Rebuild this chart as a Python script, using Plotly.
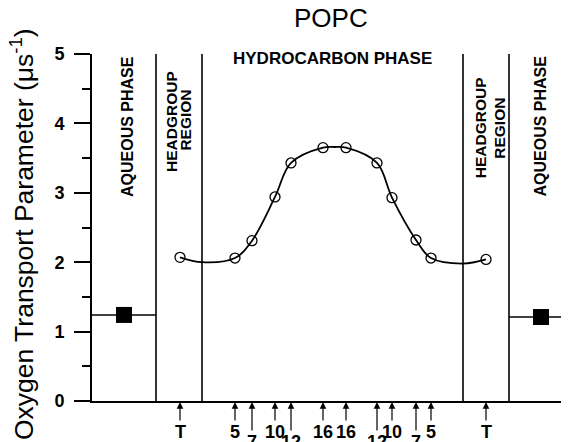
import plotly.graph_objects as go

# ---- data (x = position across the bilayer, arbitrary units) ----
point_labels = ["T", "5", "7", "10", "12", "16", "16", "12", "10", "7", "5", "T"]
point_x = [88, 143, 160, 183, 199, 231, 254, 285, 300, 324, 339, 394]
point_y = [2.07, 2.06, 2.31, 2.94, 3.43, 3.65, 3.65, 3.43, 2.93, 2.32, 2.06, 2.04]

# fitted curve
curve_x = [88, 110, 143, 160, 183, 199, 231, 242.5, 254, 285, 300, 324, 339, 371, 394]
curve_y = [2.07, 2.00, 2.06, 2.31, 2.94, 3.43, 3.65, 3.66, 3.65, 3.43, 2.93, 2.32, 2.06, 1.98, 2.04]

aqueous_x = [32, 449]
aqueous_y = [1.24, 1.21]

boundaries = [64, 110, 371, 417]
x_min, x_max = 0, 477
y_min, y_max = 0, 5

long_arrow = [False, False, True, False, True, False, False, True, False, True, False, False]

FONT = "Liberation Sans, Arial, Helvetica, sans-serif"

fig = go.Figure()

# aqueous horizontal lines
fig.add_trace(go.Scatter(x=[x_min, boundaries[0]], y=[aqueous_y[0]] * 2, mode="lines",
                         line=dict(color="black", width=1.5), showlegend=False, hoverinfo="skip"))
fig.add_trace(go.Scatter(x=[boundaries[3], x_max], y=[aqueous_y[1]] * 2, mode="lines",
                         line=dict(color="black", width=1.5), showlegend=False, hoverinfo="skip"))
fig.add_trace(go.Scatter(x=aqueous_x, y=aqueous_y, mode="markers",
                         marker=dict(symbol="square", size=16, color="black"), showlegend=False))

# fitted curve
fig.add_trace(go.Scatter(x=curve_x, y=curve_y, mode="lines",
                         line=dict(color="black", width=1.8, shape="spline", smoothing=1.0),
                         showlegend=False, hoverinfo="skip"))
# data points
fig.add_trace(go.Scatter(x=point_x, y=point_y, mode="markers",
                         marker=dict(symbol="circle-open", size=10, color="black", line=dict(width=1.3)),
                         showlegend=False))

# region boundaries
for b in boundaries:
    fig.add_shape(type="line", xref="x", yref="y", x0=b, x1=b, y0=y_min, y1=y_max,
                  line=dict(color="black", width=1.6))

ann = []
# arrows + labels below the axis
for lab, x, lng in zip(point_labels, point_x, long_arrow):
    ann.append(dict(x=x, xref="x", y=-0.003, yref="paper", text=lab, showarrow=True,
                    ax=0, ay=48 if lng else 30, arrowhead=2, arrowsize=1.1, arrowwidth=1.2,
                    arrowcolor="black", standoff=0,
                    font=dict(family=FONT, size=18, color="black", weight="bold")))

# region labels
def rot(text, x, y, size):
    return dict(x=x, xref="x", y=y, yref="y", text=text, textangle=-90, showarrow=False,
                xanchor="center", yanchor="middle",
                font=dict(family=FONT, size=size, color="black", weight="bold"))

ann.append(rot("AQUEOUS PHASE", 35.5, 3.955, 16))
ann.append(rot("AQUEOUS PHASE", 449, 3.955, 16))
ann.append(rot("HEADGROUP", 79, 4.02, 15.5))
ann.append(rot("REGION", 94, 4.04, 15.5))
ann.append(rot("HEADGROUP", 388, 3.93, 15.5))
ann.append(rot("REGION", 407.5, 3.93, 15.5))
ann.append(dict(x=240, xref="x", y=4.94, yref="y", text="HYDROCARBON PHASE", showarrow=False,
                xanchor="center", yanchor="middle",
                font=dict(family=FONT, size=17, color="black", weight="bold")))

# title
ann.append(dict(x=0.5, xref="paper", y=1 + (54 - 18) / 347, yref="paper", text="POPC", showarrow=False,
                xanchor="center", yanchor="middle", font=dict(family=FONT, size=26, color="black")))
# y-axis title
ann.append(dict(x=-(92 - 22) / 477, xref="paper", y=0.481, yref="paper",
                text="Oxygen Transport Parameter (μs<sup>-1</sup>)", textangle=-90, showarrow=False,
                xanchor="center", yanchor="middle", font=dict(family=FONT, size=26.5, color="black")))

fig.update_layout(
    width=561, height=434,
    margin=dict(l=84, r=0, t=46, b=41),
    paper_bgcolor="white", plot_bgcolor="white",
    annotations=ann,
    showlegend=False,
    xaxis=dict(range=[x_min, x_max], showline=True, linecolor="black", linewidth=2,
               showticklabels=False, ticks="", showgrid=False, zeroline=False, fixedrange=True),
    yaxis=dict(range=[y_min, y_max], showline=True, linecolor="black", linewidth=2,
               tickmode="linear", tick0=0, dtick=1, ticks="outside", ticklen=16, tickwidth=2,
               tickcolor="black", ticklabelstandoff=6,
               tickfont=dict(family=FONT, size=18, color="black", weight="bold"),
               minor=dict(dtick=0.5, ticks="outside", ticklen=8, tickwidth=2, tickcolor="black"),
               showgrid=False, zeroline=False, fixedrange=True),
)

fig.write_html("out.html", config={"displayModeBar": False})
